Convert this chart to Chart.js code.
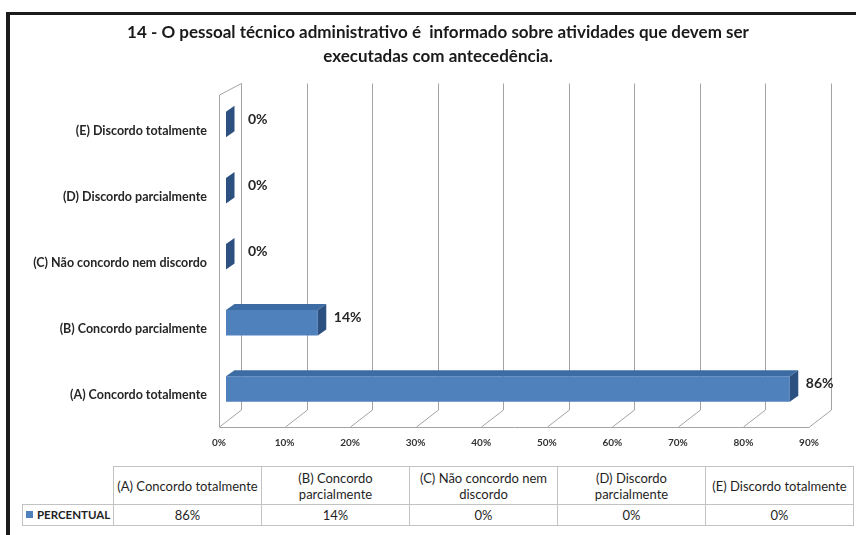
<!DOCTYPE html>
<html lang="pt">
<head>
<meta charset="utf-8">
<title>14 - Pessoal técnico administrativo</title>
<script src="https://cdn.jsdelivr.net/npm/chart.js@4"></script>
<style>
  html, body { margin: 0; padding: 0; background: #fff; overflow: hidden; }
  body { width: 856px; height: 535px; position: relative; font-family: Lato, 'Open Sans', sans-serif; }
  .frame {
    position: absolute; left: 6px; top: 12px; right: -10px; bottom: -10px;
    border-left: 4px solid #1a1a1a; border-top: 3px solid #1a1a1a;
  }
  .chart-box { position: absolute; left: 0; top: 0; width: 856px; height: 455px; }
  table.data-table {
    position: absolute; left: 22px; top: 466px; width: 831px;
    border-collapse: collapse; table-layout: fixed;
    font-size: 13px; color: #1f1f1f;
  }
  .data-table td { border: 1px solid #c3c3c3; text-align: center; padding: 0 1px; line-height: 16px; overflow: hidden; }
  .data-table tr.head td { height: 37px; }
  .data-table tr.vals td { height: 20px; }
  .data-table td.corner { border-top: none; border-left: none; }
  .data-table td.legend { text-align: left; font-weight: bold; font-size: 11.5px; padding-left: 3px; white-space: nowrap; }
  .swatch { display: inline-block; width: 7px; height: 7px; background: #4f81bd; margin-right: 4px; vertical-align: 1px; }
</style>
</head>
<body>
<div class="frame"></div>
<div class="chart-box"><canvas id="chart"></canvas></div>
<table class="data-table" id="data-table"></table>

<script>
// ===== DATA =====
const titleLines = [
  '14 - O pessoal técnico administrativo é  informado sobre atividades que devem ser',
  'executadas com antecedência.'
];
const categories = [
  '(A) Concordo totalmente',
  '(B) Concordo parcialmente',
  '(C) Não concordo nem discordo',
  '(D) Discordo parcialmente',
  '(E) Discordo totalmente'
];
const percentual = [86, 14, 0, 0, 0];
const tickValues = [0, 10, 20, 30, 40, 50, 60, 70, 80, 90];
const seriesName = 'PERCENTUAL';

// ===== STYLE =====
const FRONT = '#4f81bd';
const TOP = '#3d6ca4';
const SIDE = '#2c5181';
const GRID = '#a3a3a3';
const DEPTH_X = 8.5, DEPTH_Y = -6;

// ===== TITLE (centred on the plot, not the canvas) =====
const titlePlugin = {
  id: 'titleText',
  afterDraw(chart) {
    const { ctx } = chart;
    ctx.save();
    ctx.fillStyle = '#1a1a1a';
    ctx.font = 'bold 17px Lato, sans-serif';
    ctx.textAlign = 'center';
    ctx.textBaseline = 'middle';
    titleLines.forEach((line, i) => ctx.fillText(line, 438, 33 + i * 24));
    ctx.restore();
  }
};

// ===== 3D WALLS + FLOOR =====
const wallsPlugin = {
  id: 'walls',
  beforeDatasetsDraw(chart) {
    const { ctx, chartArea: a, scales: { x } } = chart;
    const backTop = a.top - 8;
    const backBottom = a.bottom - 12;
    const front = a.bottom + 5;
    const backDx = 15, frontDx = -7;
    ctx.save();
    ctx.strokeStyle = GRID;
    ctx.lineWidth = 1;
    ctx.beginPath();
    x.ticks.forEach(t => {
      const px = Math.round(x.getPixelForValue(t.value)) + 0.5;
      ctx.moveTo(px + backDx, backTop);
      ctx.lineTo(px + backDx, backBottom);
      ctx.lineTo(px + frontDx, front);
    });
    const x0 = Math.round(x.getPixelForValue(x.min)) + 0.5;
    const x1 = Math.round(x.getPixelForValue(x.max)) + 0.5;
    ctx.moveTo(x0 + frontDx, Math.round(front) + 0.5);
    ctx.lineTo(x1 + frontDx, Math.round(front) + 0.5);
    // left wall edge
    ctx.moveTo(x0 + frontDx, front);
    ctx.lineTo(x0 + frontDx, a.top + 3.5);
    ctx.lineTo(x0 + backDx, backTop);
    ctx.stroke();
    ctx.restore();
  }
};

// ===== BAR DEPTH + VALUE LABELS =====
function poly(ctx, pts, color) {
  ctx.beginPath();
  ctx.moveTo(pts[0][0], pts[0][1]);
  pts.slice(1).forEach(p => ctx.lineTo(p[0], p[1]));
  ctx.closePath();
  ctx.fillStyle = color;
  ctx.fill();
}

const depthPlugin = {
  id: 'depth',
  afterDatasetsDraw(chart) {
    const { ctx } = chart;
    const meta = chart.getDatasetMeta(0);
    ctx.save();
    meta.data.forEach((bar, i) => {
      const { x, y, base, height } = bar.getProps(['x', 'y', 'base', 'height'], true);
      const top = y - height / 2, bottom = y + height / 2;
      poly(ctx, [[base, top], [x, top], [x + DEPTH_X, top + DEPTH_Y], [base + DEPTH_X, top + DEPTH_Y]], TOP);
      poly(ctx, [[x, top], [x, bottom], [x + DEPTH_X, bottom + DEPTH_Y], [x + DEPTH_X, top + DEPTH_Y]], SIDE);

      ctx.fillStyle = '#262626';
      ctx.font = 'bold 14px Lato, sans-serif';
      ctx.textAlign = 'left';
      ctx.textBaseline = 'middle';
      const gap = percentual[i] === 0 ? 22 : 16;
      ctx.fillText(percentual[i] + '%', x + gap, y - 5);
    });
    ctx.restore();
  }
};

// ===== CHART =====
new Chart(document.getElementById('chart'), {
  type: 'bar',
  data: {
    labels: categories,
    datasets: [{
      label: seriesName,
      data: percentual,
      backgroundColor: FRONT,
      borderWidth: 0,
      categoryPercentage: 1,
      barPercentage: 0.386,
      clip: false,
    }],
  },
  options: {
    indexAxis: 'y',
    responsive: true,
    maintainAspectRatio: false,
    animation: false,
    layout: { padding: { left: 12, right: 40, top: 91.5, bottom: 0 } },
    plugins: {
      legend: { display: false },
      tooltip: { enabled: false },
      title: { display: false },
    },
    scales: {
      x: {
        min: tickValues[0],
        max: tickValues[tickValues.length - 1],
        grid: { display: false, drawTicks: false },
        border: { display: false },
        afterFit: s => { s.height = 33; },
        afterBuildTicks: s => { s.ticks = tickValues.map(v => ({ value: v })); },
        ticks: {
          callback: v => v + '%',
          labelOffset: -7,
          padding: 15,
          maxRotation: 0,
          color: '#333',
          font: { family: 'Lato', size: 10, weight: 'bold' },
        },
      },
      y: {
        reverse: true,
        grid: { display: false, drawTicks: false },
        border: { display: false },
        afterFit: s => { s.width = 214; },
        ticks: {
          padding: 19,
          labelOffset: 6.5,
          color: '#262626',
          font: { family: 'Lato', size: 12.5, weight: 'bold' },
        },
      },
    },
  },
  plugins: [wallsPlugin, depthPlugin, titlePlugin],
});

// ===== DATA TABLE =====
function renderTable() {
  const table = document.getElementById('data-table');
  const cols = '<col style="width:91px">' + categories.map(() => '<col style="width:148px">').join('');
  const head = categories.map(c => `<td>${c}</td>`).join('');
  const vals = percentual.map(v => `<td>${v}%</td>`).join('');
  table.innerHTML = `
    <colgroup>${cols}</colgroup>
    <tr class="head"><td class="corner"></td>${head}</tr>
    <tr class="vals"><td class="legend"><span class="swatch"></span>${seriesName}</td>${vals}</tr>`;
}

renderTable();
</script>
</body>
</html>
